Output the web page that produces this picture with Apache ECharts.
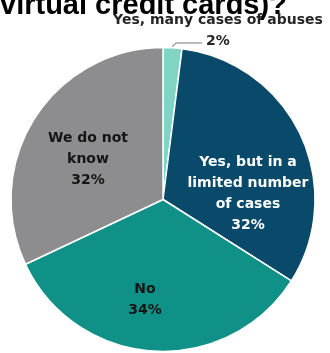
<!DOCTYPE html>
<html><head><meta charset="utf-8">
<script src="https://cdn.jsdelivr.net/npm/echarts@6/dist/echarts.min.js"></script>
<style>html,body{margin:0;padding:0;background:#fff}#c{width:330px;height:353px}</style>
</head><body><div id="c"></div>
<script>
// Survey answers and their shares (percent)
const categories = ['Yes, many cases of abuses', 'Yes, but in a limited number of cases', 'No', 'We do not know'];
const shares = [2, 32, 34, 32];
// How each category name breaks across lines in its label
const wrappedNames = [
  ['Yes, many cases of abuses'],
  ['Yes, but in a', 'limited number', 'of cases'],
  ['No'],
  ['We do not', 'know']
];
const titleText = 'virtual credit cards)?';

const sliceColors = ['#7fd4c4', '#094a6b', '#0f9188', '#8d8d8f'];
const labelColors = ['#262626', '#ffffff', '#151515', '#151515'];
// Label anchor points (block centres) in pixels
const labelSpots = [[218, 31], [248, 194], [145, 300], [88, 159]];

const chart = echarts.init(document.getElementById('c'), null, { renderer: 'canvas' });

const data = categories.map((name, i) => ({
  name,
  value: shares[i],
  itemStyle: { color: sliceColors[i] },
  label: {
    position: i === 0 ? 'outside' : 'inside',
    color: labelColors[i],
    formatter: p => wrappedNames[p.dataIndex].concat([p.value + '%']).join('\n')
  },
  labelLine: { show: i === 0 }
}));

chart.setOption({
  animation: false,
  graphic: [{
    type: 'text',
    left: 0,
    top: -9,
    style: {
      text: titleText,
      font: 'bold 29px "Liberation Sans", Arial, sans-serif',
      fill: '#000'
    }
  }],
  series: [{
    type: 'pie',
    center: [163, 199.5],
    radius: [0, 152],
    startAngle: 90,
    clockwise: true,
    avoidLabelOverlap: false,
    itemStyle: { borderColor: '#fff', borderWidth: 1.5 },
    label: {
      show: true,
      fontFamily: '"DejaVu Sans", sans-serif',
      fontWeight: 'bold',
      fontSize: 14,
      lineHeight: 21,
      align: 'center',
      overflow: 'none',
      width: 240
    },
    labelLine: {
      lineStyle: { color: '#a6a6a6', width: 1.5 },
      length: 10, length2: 20
    },
    labelLayout: p => {
      const s = labelSpots[p.dataIndex];
      const out = { x: s[0], y: s[1], align: 'center', verticalAlign: 'middle' };
      if (p.dataIndex === 0) {
        out.labelLinePoints = [[172, 47], [176, 43], [202, 43]];
      }
      return out;
    },
    data
  }]
});
</script></body></html>
